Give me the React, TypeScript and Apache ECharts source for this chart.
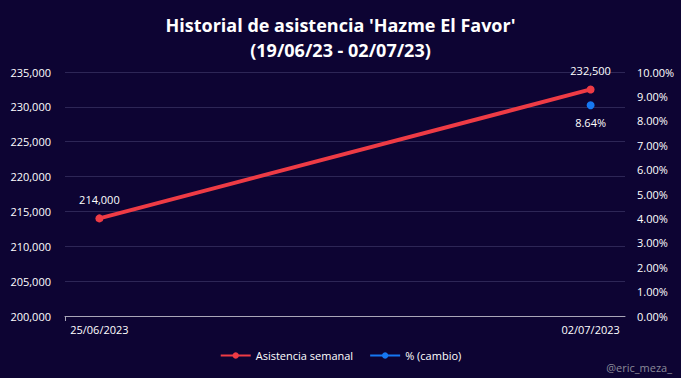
import React, { useEffect, useRef } from "react";
import * as echarts from "echarts";

const titleLines = ["Historial de asistencia 'Hazme El Favor'", "(19/06/23 - 02/07/23)"];
const categories = ["25/06/2023", "02/07/2023"];
const asistencia = [214000, 232500];
const cambio: (number | null)[] = [null, 8.64];
const seriesNames = ["Asistencia semanal", "% (cambio)"];
const watermark = "@eric_meza_";

const BG = "#0d0433";
const FONT = "'Open Sans', 'Noto Sans', sans-serif";

export default function App() {
  const ref = useRef<HTMLDivElement>(null);
  useEffect(() => {
    if (!ref.current) return;
    const chart = echarts.init(ref.current, undefined, { renderer: "svg" });
    const idx = categories.map((_, i) => i);
    chart.setOption({
      animation: false,
      backgroundColor: BG,
      textStyle: { fontFamily: FONT },
      title: {
        text: titleLines.join("\n"),
        left: "center",
        top: 7,
        textStyle: {
          color: "#ffffff",
          fontSize: 18,
          fontWeight: "bold",
          lineHeight: 25,
          fontFamily: FONT,
        },
      },
      graphic: [
        {
          type: "text",
          right: 9,
          bottom: 5,
          style: { text: watermark, fill: "#8a8a99", fontSize: 11, fontFamily: FONT },
        },
      ],
      legend: {
        bottom: 12,
        left: "center",
        itemWidth: 30,
        itemHeight: 8,
        itemGap: 16,
        textStyle: { color: "#ffffff", fontSize: 11, fontFamily: FONT },
        data: seriesNames,
      },
      grid: { left: 65, right: 56, top: 72, bottom: 62, containLabel: false },
      xAxis: {
        type: "value",
        min: -0.07,
        max: 1.07,
        splitLine: { show: false },
        axisLine: { show: true, lineStyle: { color: "#a9a6b8", width: 1 } },
        axisTick: { show: true, customValues: [-0.07], length: 5, lineStyle: { color: "#a9a6b8" } },
        axisLabel: {
          customValues: idx,
          formatter: (v: number) => categories[Math.round(v)] ?? "",
          color: "#ffffff",
          fontSize: 11,
          margin: 8,
          fontFamily: FONT,
        },
      },
      yAxis: [
        {
          type: "value",
          min: 200000,
          max: 235000,
          interval: 5000,
          axisLine: { show: false },
          axisTick: { show: false },
          splitLine: { lineStyle: { color: "#2d2656", width: 1 } },
          axisLabel: {
            color: "#ffffff",
            fontSize: 11,
            margin: 14,
            fontFamily: FONT,
            formatter: (v: number) => v.toLocaleString("en-US"),
          },
        },
        {
          type: "value",
          min: 0,
          max: 10,
          interval: 1,
          position: "right",
          axisLine: { show: false },
          axisTick: { show: false },
          splitLine: { show: false },
          axisLabel: {
            color: "#ffffff",
            fontSize: 11,
            margin: 12,
            fontFamily: FONT,
            formatter: (v: number) => v.toFixed(2) + "%",
          },
        },
      ],
      series: [
        {
          name: seriesNames[0],
          type: "line",
          yAxisIndex: 0,
          data: asistencia.map((v, i) => [i, v]),
          symbol: "circle",
          symbolSize: 8,
          lineStyle: { color: "#ee3b45", width: 4 },
          itemStyle: { color: "#ee3b45" },
          label: {
            show: true,
            position: "top",
            distance: 9,
            color: "#ffffff",
            fontSize: 11,
            fontFamily: FONT,
            formatter: (p: any) => (p.value[1] as number).toLocaleString("en-US"),
          },
        },
        {
          name: seriesNames[1],
          type: "line",
          yAxisIndex: 1,
          data: cambio.map((v, i) => [i, v]),
          symbol: "circle",
          symbolSize: 8,
          lineStyle: { color: "#1677f2", width: 4 },
          itemStyle: { color: "#1677f2" },
          label: {
            show: true,
            position: "bottom",
            distance: 8,
            color: "#ffffff",
            fontSize: 11,
            fontFamily: FONT,
            formatter: (p: any) => (p.value[1] as number).toFixed(2) + "%",
          },
        },
      ],
    });
    return () => chart.dispose();
  }, []);
  return <div ref={ref} style={{ width: 681, height: 378, position: "fixed", left: 0, top: 0 }} />;
}
